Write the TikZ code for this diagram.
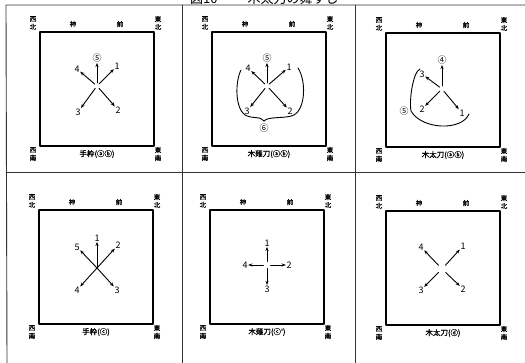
\documentclass[tikz,border=0pt]{standalone}
\usepackage{fontspec}
\newfontfamily\jp{Noto Sans CJK JP}[FakeBold=1.2]
\newfontfamily\jpnum{Noto Sans CJK JP}
\usetikzlibrary{calc, positioning}
\usetikzlibrary{arrows.meta}

\begin{document}
\begin{tikzpicture}[x=1pt, y=-1pt, line join=round, line cap=round,
  frame/.style={line width=1.2pt, black},
  grid/.style={line width=0.9pt, black!80},
  corner/.style={font=\jp\fontsize{6.5}{8}\selectfont, align=center, inner sep=0pt},
  side/.style={font=\jp\fontsize{6.5}{8}\selectfont, inner sep=0pt},
  caption/.style={font=\jp\fontsize{7.5}{8}\selectfont, inner sep=0pt},
  num/.style={font=\jpnum\fontsize{9}{10}\selectfont, inner sep=0.5pt},
  arr/.style={-{Stealth[length=4.2pt, width=3.2pt]}, line width=0.9pt},
  path/.style={line width=0.9pt}]
\useasboundingbox (0,0) rectangle (525,363);

% Square stage with the directions round it
\def\panelframe#1#2#3#4{%
  \begin{scope}[shift={(#2,#3)}]
    \draw[frame] (0,0) rectangle (114,114);
    \node[corner] (#1nw) at (-7,-9) {西\\北};
    \node[side] (#1ka) at (33,-8) {神};
    \node[side] (#1mae) at (80,-8) {前};
    \node[corner] (#1ne) at (118,-9) {東\\北};
    \node[corner] (#1sw) at (-7,122) {西\\南};
    \node[corner] (#1se) at (118,122) {東\\南};
    \node[caption] (#1cap) at (57,122) {#4};
  \end{scope}}

% Title and table rules
\node[font=\jpnum\fontsize{13}{14}\selectfont, anchor=base west, inner sep=0pt] (title) at (190,3.5) {図10\hspace{30pt}木太刀の舞すじ};
\draw[grid] (525,5) -- (6,5) -- (7,363);
\draw[grid] (6,172) -- (525,172);
\draw[grid] (182,5) -- (182,363);
\draw[grid] (355,5) -- (355,363);

\panelframe{a}{40}{32}{手枠(ⓐⓑ)}
\panelframe{b}{212}{32}{木薙刀(ⓐⓑ)}
\panelframe{c}{386}{33}{木太刀(ⓐⓑ)}
\panelframe{d}{39}{210}{手枠(ⓒ)}
\panelframe{e}{210}{210}{木薙刀(ⓒ')}
\panelframe{f}{386}{211}{木太刀(ⓓ)}

% Panel a
\coordinate (ac) at (97,86);
\node[num] (a5) at (97,58) {⑤};
\node[num] (a1) at (117,66) {1};
\node[num] (a2) at (118,110) {2};
\node[num] (a3) at (78,112) {3};
\node[num] (a4) at (77,69) {4};
\foreach \n in {1,2,3,4,5}
  \draw[arr, shorten <=3pt] (ac) -- (a\n);

% Panel b
\coordinate (bc) at (267,86);
\node[num] (b5) at (267,58) {⑤};
\node[num] (b1) at (289,67) {1};
\node[num] (b2) at (290,111) {2};
\node[num] (b3) at (247,111) {3};
\node[num] (b4) at (248,68) {4};
\node[num] (b6) at (264,128) {⑥};
\foreach \n in {1,2,3,4,5}
  \draw[arr, shorten <=3pt] (bc) -- (b\n);
\coordinate (bl) at (241,70);
\coordinate (br) at (298,68);
\coordinate (btip) at (264,121);
\draw[path] (bl) .. controls (235,82) and (235,108) .. (245,115)
  .. controls (252,119) and (261,116) .. (btip);
\draw[path] (br) .. controls (306,80) and (306,108) .. (294,115)
  .. controls (286,119) and (268,116) .. (btip);

% Panel c
\coordinate (cc) at (442,89);
\node[num] (c4) at (442,60) {④};
\node[num] (c1) at (462,113) {1};
\node[num] (c2) at (422,109) {2};
\node[num] (c3) at (422,74) {3};
\node[num] (c5) at (404,111) {⑤};
\foreach \n in {1,2,3,4}
  \draw[arr, shorten <=3pt] (cc) -- (c\n);
\coordinate (ctop) at (420,69);
\coordinate (ccusp) at (411,111);
\coordinate (cend) at (469,114);
\draw[path] (ctop) .. controls (413,72) and (409,100) .. (ccusp)
  .. controls (422,130) and (462,131) .. (cend);

% Panel d
\coordinate (dc) at (97,268);
\node[num] (d1) at (97,238) {1};
\node[num] (d2) at (118,245) {2};
\node[num] (d3) at (117,290) {3};
\node[num] (d4) at (77,290) {4};
\node[num] (d5) at (77,247) {5};
\foreach \n in {1,2,3,4,5}
  \draw[arr] (dc) -- (d\n);

% Panel e
\coordinate (ec) at (267,265);
\node[num] (e1) at (267,243) {1};
\node[num] (e2) at (289,265) {2};
\node[num] (e3) at (267,289) {3};
\node[num] (e4) at (245,265) {4};
\foreach \n in {1,2,3,4}
  \draw[arr, shorten <=3.5pt] (ec) -- (e\n);

% Panel f
\coordinate (fc) at (442,269);
\node[num] (f1) at (463,246) {1};
\node[num] (f2) at (463,289) {2};
\node[num] (f3) at (421,290) {3};
\node[num] (f4) at (421,247) {4};
\foreach \n in {1,2,3,4}
  \draw[arr, shorten <=5pt] (fc) -- (f\n);
\end{tikzpicture}
\end{document}
